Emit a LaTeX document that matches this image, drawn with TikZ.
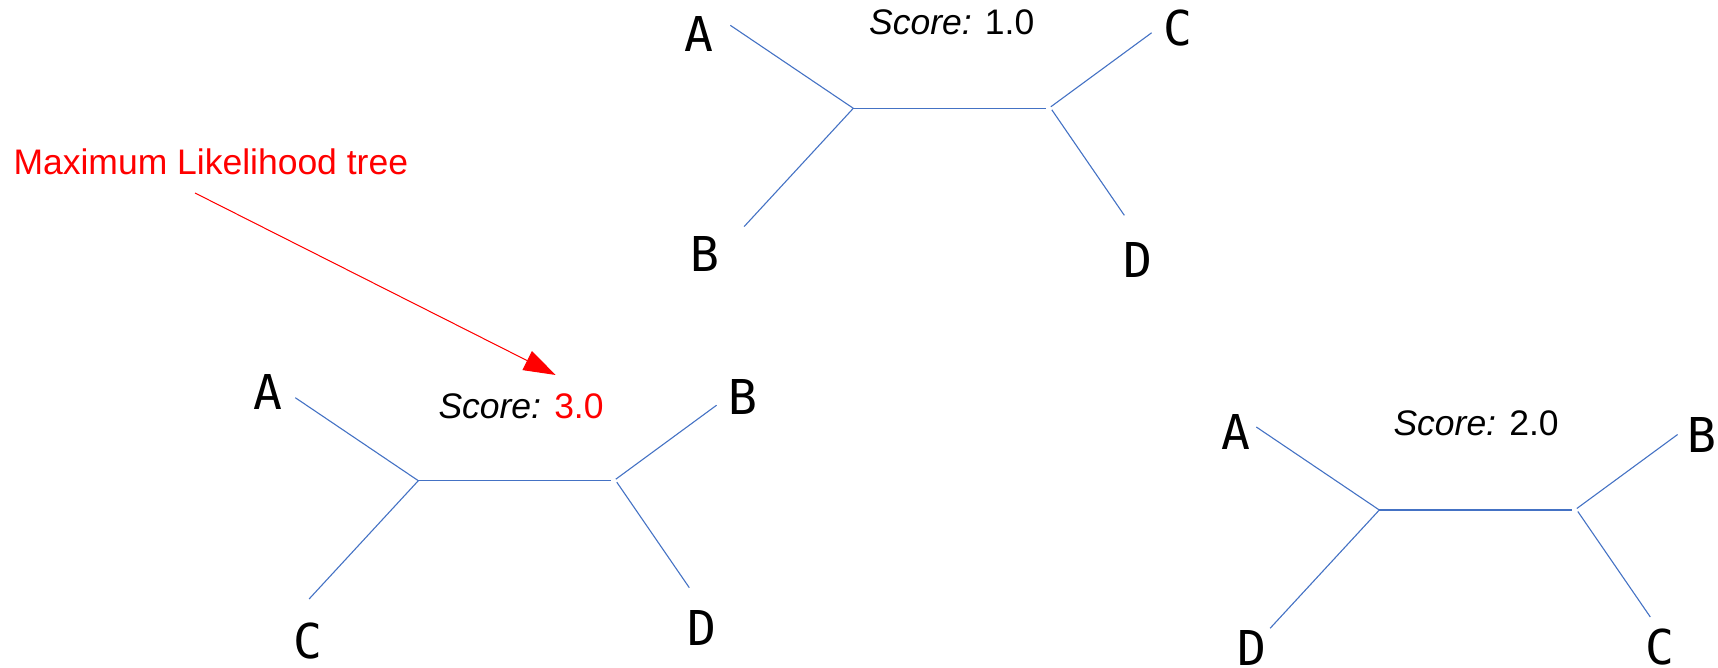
\documentclass[tikz,border=0pt]{standalone}
\usepackage{fontspec}
\setmainfont{Liberation Sans}
\newfontfamily\leaffont{DejaVu Sans Mono}
\usetikzlibrary{arrows.meta}
\definecolor{branch}{HTML}{4472C4}
\begin{document}
\begin{tikzpicture}[x=1pt,y=-1pt,
  edge/.style={draw=branch,line width=1.1pt},
  leaf/.style={inner sep=0pt,anchor=center,font=\leaffont\fontsize{48}{50}\selectfont},
  score/.style={inner sep=0pt,anchor=base west,font=\fontsize{35.5}{40}\selectfont},
  pointer/.style={draw=red,line width=1pt,-{Triangle[length=32pt,width=21pt]},fill=red}]
\useasboundingbox (0,0) rectangle (1718,668);

% one unrooted four-leaf tree: junction at the origin of the scope
\newcommand{\quartet}[1]{%
  \coordinate (#1j) at (0,0);
  \coordinate (#1ul) at (-123,-83);
  \coordinate (#1ll) at (-109.2,118.3);
  \coordinate (#1k) at (192.5,0);
  \coordinate (#1urs) at (197.5,-1.5);
  \coordinate (#1ur) at (298.3,-75.5);
  \coordinate (#1lrs) at (198.5,1.5);
  \coordinate (#1lr) at (271,107);
  \draw[edge] (#1ul) -- (#1j) -- (#1ll);
  \draw[edge] (#1j) -- (#1k);
  \draw[edge] (#1urs) -- (#1ur);
  \draw[edge] (#1lrs) -- (#1lr);
}

% top tree
\begin{scope}[shift={(853.3,108.3)}]
  \quartet{t}
\end{scope}
\node[leaf] (tA) at (699,34.2) {A};
\node[leaf] (tB) at (705.3,254.2) {B};
\node[leaf] (tC) at (1177.5,28.3) {C};
\node[leaf] (tD) at (1137.8,260.3) {D};
\node[score] (tS) at (869,34.3) {\textit{Score:} 1.0};

% lower-left tree
\begin{scope}[shift={(418.3,480.7)}]
  \quartet{l}
\end{scope}
\node[leaf] (lA) at (268.3,392.5) {A};
\node[leaf] (lC) at (308.3,640.8) {C};
\node[leaf] (lB) at (743.3,397.5) {B};
\node[leaf] (lD) at (701.7,627.5) {D};
\node[score] (lS) at (438.3,418.3) {\textit{Score:} \textcolor{red}{3.0}};

% lower-right tree
\begin{scope}[shift={(1379.3,510)}]
  \quartet{r}
\end{scope}
\node[leaf] (rA) at (1236.3,432.2) {A};
\node[leaf] (rD) at (1251.7,647.5) {D};
\node[leaf] (rB) at (1701.7,435) {B};
\node[leaf] (rC) at (1660,647.5) {C};
\node[score] (rS) at (1393.3,435) {\textit{Score:} 2.0};

% caption and pointer
\node[inner sep=0pt,anchor=base west,text=red,font=\fontsize{35.5}{40}\selectfont] (ml) at (13.3,174.3) {Maximum Likelihood tree};
\coordinate (from) at (195,193);
\coordinate (to) at (555.7,375);
\draw[pointer] (from) -- (to);
\end{tikzpicture}
\end{document}
